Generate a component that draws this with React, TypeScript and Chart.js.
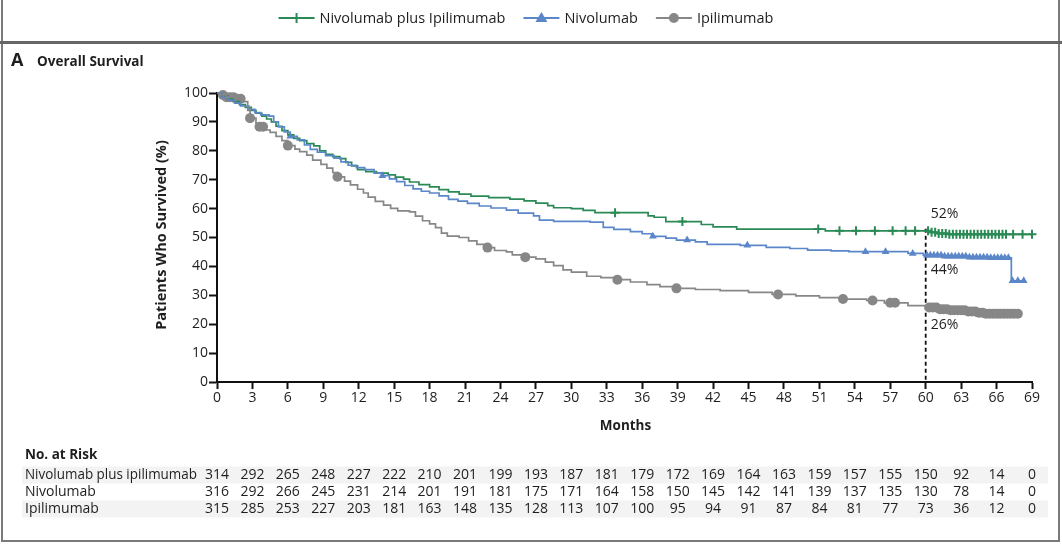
import React, { useEffect, useRef } from 'react';
import { Chart, registerables } from 'chart.js';

Chart.register(...registerables);

const W = 1062;
const H = 544;

// ---------- series meta ----------
const seriesNames = ['Nivolumab plus Ipilimumab', 'Nivolumab', 'Ipilimumab'];
const seriesColors = ['#2a8a55', '#5b87c9', '#878787'];
const seriesMarkers = ['cross', 'triangle', 'circle'];

// ---------- Kaplan-Meier curves (months, % surviving) ----------
const comboT = [0, 0.4, 0.9, 1.4, 1.9, 2.4, 2.9, 3.3, 3.8, 4.2, 4.6, 5, 5.5, 6, 6.5, 7, 7.6, 8.2, 8.7, 9.2, 9.8, 10.4, 10.9, 11.4, 11.9, 12.6, 13.5, 14.5, 15.1, 15.8, 16.3, 17.1, 18, 18.8, 19.6, 20.5, 21.5, 23, 24.8, 26, 27, 28, 28.5, 30, 31, 32, 36.5, 37, 38, 41, 42, 44, 51.5, 60.3, 61, 62, 69];
const comboS = [100, 99, 98, 97, 96, 95, 94, 93, 92, 91, 90, 88.5, 87, 85.5, 84.3, 83.5, 82.5, 81.7, 80, 78.8, 78, 77.3, 76, 74.8, 73.5, 72.8, 72.3, 71.7, 70.9, 70.2, 69.2, 68.3, 67.5, 66.6, 65.8, 65, 64.3, 63.8, 63.3, 62.7, 61.9, 61, 60.3, 60, 59.4, 58.6, 57.5, 57, 55.5, 54.5, 53.7, 52.9, 52.3, 51.8, 51.4, 51.1, 51.1];

const nivoT = [0, 0.5, 1, 1.5, 2, 2.7, 3.2, 3.7, 4.4, 4.8, 5.2, 5.7, 6.2, 6.8, 7.4, 7.9, 8.5, 9.2, 9.9, 10.5, 11.1, 11.8, 12.5, 13.3, 14, 14.6, 15.2, 15.9, 16.6, 17.3, 18, 18.8, 19.6, 20.4, 21.2, 22.2, 23.2, 24.5, 25.5, 26.8, 27.3, 28.5, 31.6, 32.7, 33.6, 35, 36, 36.8, 38, 38.9, 40.5, 41.5, 44.3, 46.5, 48.5, 50, 52, 53.5, 58.5, 59.8, 61.5, 63.5, 65.5, 67.25, 68.3];
const nivoS = [100, 98.5, 97.5, 96.5, 95.5, 94.3, 93.2, 92.4, 92, 90, 88.3, 86.5, 85, 83.8, 82, 80.5, 79.5, 78.3, 77.5, 76.2, 75, 74.2, 73.5, 72.3, 71.4, 70.3, 69.3, 68, 66.8, 66, 65.4, 64.4, 63.2, 62.6, 61.8, 60.9, 60.2, 59.5, 58.4, 57.5, 56, 55.6, 55.3, 53.5, 52.8, 52, 51.3, 50.4, 49.8, 49.1, 48.5, 47.6, 47.3, 46.6, 46.2, 45.6, 45.4, 45.1, 44.5, 43.9, 43.5, 43.2, 43, 35, 35];

const ipiT = [0, 0.3, 0.8, 1.5, 2.2, 2.6, 2.8, 3.3, 3.6, 4.1, 4.5, 5, 5.5, 6, 6.6, 7, 7.6, 8.1, 8.8, 9.3, 9.8, 10.2, 10.8, 11.3, 11.9, 12.4, 12.8, 13.4, 14.1, 14.7, 15.3, 16.3, 16.8, 17.4, 18, 18.5, 19, 19.5, 20.5, 21.3, 22, 22.9, 23.5, 24.5, 25, 26, 27, 27.8, 28.5, 29.3, 30, 31.3, 32.5, 33.8, 35, 36.4, 37.5, 38.9, 40.5, 42.6, 45, 47, 49, 51, 53, 55, 56.5, 58.5, 60.3, 61, 62, 63.5, 64.5, 65, 67.8];
const ipiS = [100, 99.3, 98.5, 98, 97, 94, 91.3, 89.5, 88.3, 87.2, 86.4, 85, 83.5, 81.8, 80.6, 79.7, 78.5, 76.8, 75.3, 74, 72.5, 71, 69.5, 68.2, 66.7, 65.4, 64, 62.5, 61.2, 60.1, 59.2, 58.9, 57.4, 55.8, 54.7, 53.4, 51.5, 50.5, 50, 48.8, 47.6, 46.5, 45.5, 45, 44, 43.2, 42.6, 41.5, 40.3, 38.8, 38, 36.6, 36.1, 35.4, 34.6, 33.7, 33, 32.4, 32, 31.6, 31, 30.3, 29.8, 29.2, 28.7, 28.2, 27.4, 26.4, 25.8, 25.2, 24.8, 24.4, 24, 23.6, 23.6];

// ---------- censor marks ----------
const comboCensorT = [33.7, 39.4, 50.9, 52.7, 54.1, 55.7, 57.2, 58.3, 59.1, 60.2, 60.5, 60.8, 61.1, 61.4, 61.7, 62.0, 62.3, 62.6, 62.9, 63.2, 63.5, 63.8, 64.1, 64.4, 64.7, 65.0, 65.3, 65.6, 65.9, 66.2, 66.5, 66.8, 67.4, 68.2, 69.0];
const comboCensorS = [58.6, 55.5, 52.9, 52.3, 52.3, 52.3, 52.3, 52.3, 52.3, 52.3, 51.8, 51.8, 51.4, 51.4, 51.4, 51.1, 51.1, 51.1, 51.1, 51.1, 51.1, 51.1, 51.1, 51.1, 51.1, 51.1, 51.1, 51.1, 51.1, 51.1, 51.1, 51.1, 51.1, 51.1, 51.1];

const nivoCensorT = [6.2, 14.0, 36.9, 39.8, 44.9, 54.9, 56.6, 58.9, 60.1, 60.4, 60.7, 61.0, 61.3, 61.6, 61.9, 62.2, 62.5, 62.8, 63.1, 63.4, 63.7, 64.0, 64.3, 64.6, 64.9, 65.2, 65.5, 65.8, 66.1, 66.4, 66.7, 67.0, 67.35, 67.8, 68.3];
const nivoCensorS = [85, 71.4, 50.4, 49.1, 47.3, 45.1, 45.1, 44.5, 43.9, 43.9, 43.9, 43.9, 43.9, 43.5, 43.5, 43.5, 43.5, 43.5, 43.5, 43.5, 43.2, 43.2, 43.2, 43.2, 43.2, 43.2, 43, 43, 43, 43, 43, 43, 35, 35, 35];

const ipiCensorT = [0.5, 0.8, 1.1, 1.4, 1.7, 2.0, 2.8, 3.6, 3.9, 6.0, 10.2, 22.9, 26.1, 33.9, 38.9, 47.5, 53.0, 55.5, 57.0, 57.4, 60.3, 60.6, 60.9, 61.2, 61.5, 61.8, 62.1, 62.4, 62.7, 63.0, 63.3, 63.6, 63.9, 64.2, 64.5, 64.8, 65.1, 65.4, 65.7, 66.0, 66.3, 66.6, 66.9, 67.2, 67.5, 67.8];
const ipiCensorS = [99.3, 98.5, 98.5, 98.5, 98, 98, 91.3, 88.3, 88.3, 81.8, 71, 46.5, 43.2, 35.4, 32.4, 30.3, 28.7, 28.2, 27.4, 27.4, 25.8, 25.8, 25.8, 25.2, 25.2, 25.2, 24.8, 24.8, 24.8, 24.8, 24.8, 24.4, 24.4, 24.4, 24, 24, 23.6, 23.6, 23.6, 23.6, 23.6, 23.6, 23.6, 23.6, 23.6, 23.6];

// ---------- annotations ----------
const landmarkMonth = 60;
const landmarkTop = 53;
const landmarkLabels = ['52%', '44%', '26%'];
const landmarkLabelY = [58, 38.8, 19.7];

// ---------- axes ----------
const xMax = 69;
const xStep = 3;
const yMax = 100;
const yStep = 10;

// ---------- number at risk ----------
const riskTimes = [0, 3, 6, 9, 12, 15, 18, 21, 24, 27, 30, 33, 36, 39, 42, 45, 48, 51, 54, 57, 60, 63, 66, 69];
const riskLabels = ['Nivolumab plus ipilimumab', 'Nivolumab', 'Ipilimumab'];
const riskCombo = [314, 292, 265, 248, 227, 222, 210, 201, 199, 193, 187, 181, 179, 172, 169, 164, 163, 159, 157, 155, 150, 92, 14, 0];
const riskNivo = [316, 292, 266, 245, 231, 214, 201, 191, 181, 175, 171, 164, 158, 150, 145, 142, 141, 139, 137, 135, 130, 78, 14, 0];
const riskIpi = [315, 285, 253, 227, 203, 181, 163, 148, 135, 128, 113, 107, 100, 95, 94, 91, 87, 84, 81, 77, 73, 36, 12, 0];

const FONT = '"Open Sans", "DejaVu Sans", sans-serif';
const TXT = '#1e1e1e';

function pts(t: number[], s: number[]) {
  return t.map((v, i) => ({ x: v, y: s[i] }));
}

function drawMarker(ctx: CanvasRenderingContext2D, kind: string, x: number, y: number, color: string) {
  ctx.save();
  ctx.fillStyle = color;
  ctx.strokeStyle = color;
  if (kind === 'cross') {
    ctx.lineWidth = 2;
    ctx.beginPath();
    ctx.moveTo(x - 5, y);
    ctx.lineTo(x + 5, y);
    ctx.moveTo(x, y - 5);
    ctx.lineTo(x, y + 5);
    ctx.stroke();
  } else if (kind === 'triangle') {
    ctx.beginPath();
    ctx.moveTo(x, y - 6);
    ctx.lineTo(x + 6, y + 4);
    ctx.lineTo(x - 6, y + 4);
    ctx.closePath();
    ctx.fill();
  } else {
    ctx.beginPath();
    ctx.arc(x, y, 5, 0, Math.PI * 2);
    ctx.fill();
  }
  ctx.restore();
}

const decorPlugin = {
  id: 'decor',
  beforeDraw(chart: any) {
    const ctx: CanvasRenderingContext2D = chart.ctx;
    const xs = chart.scales.x;
    ctx.save();
    ctx.fillStyle = '#ffffff';
    ctx.fillRect(0, 0, W, H);

    // frame
    ctx.strokeStyle = '#7a7a7a';
    ctx.lineWidth = 2;
    ctx.beginPath();
    ctx.moveTo(2, 0);
    ctx.lineTo(2, 541);
    ctx.lineTo(1059, 541);
    ctx.lineTo(1059, 0);
    ctx.stroke();
    ctx.fillStyle = '#666666';
    ctx.fillRect(0, 41, W, 3);

    // legend
    ctx.font = `14.5px ${FONT}`;
    ctx.textBaseline = 'middle';
    ctx.textAlign = 'left';
    const lineLen = 36;
    const gapA = 5;
    const gapB = 18;
    const widths = seriesNames.map((n) => ctx.measureText(n).width);
    const total = widths.reduce((a, b) => a + b, 0) + seriesNames.length * (lineLen + gapA) + (seriesNames.length - 1) * gapB;
    let lx = 526 - total / 2;
    const ly = 18;
    seriesNames.forEach((n, i) => {
      ctx.strokeStyle = seriesColors[i];
      ctx.lineWidth = 2;
      ctx.beginPath();
      ctx.moveTo(lx, ly);
      ctx.lineTo(lx + lineLen, ly);
      ctx.stroke();
      drawMarker(ctx, seriesMarkers[i], lx + lineLen / 2, ly, seriesColors[i]);
      ctx.fillStyle = TXT;
      ctx.fillText(n, lx + lineLen + gapA, ly + 1);
      lx += lineLen + gapA + widths[i] + gapB;
    });

    // panel title
    ctx.fillStyle = TXT;
    ctx.font = `bold 18px ${FONT}`;
    ctx.fillText('A', 11, 61);
    ctx.font = `bold 13.5px ${FONT}`;
    ctx.fillText('Overall Survival', 37, 62);

    // axis titles
    ctx.font = `bold 13.5px ${FONT}`;
    ctx.textAlign = 'center';
    ctx.fillText('Months', (xs.left + xs.right) / 2 + 1, 426);
    ctx.save();
    ctx.translate(162, 235);
    ctx.rotate(-Math.PI / 2);
    ctx.font = `bold 14.5px ${FONT}`;
    ctx.fillText('Patients Who Survived (%)', 0, 0);
    ctx.restore();

    // number at risk
    ctx.textAlign = 'left';
    ctx.font = `bold 13.5px ${FONT}`;
    ctx.fillText('No. at Risk', 25, 455);
    const rows = [riskCombo, riskNivo, riskIpi];
    const rowY = [475, 492, 509];
    ctx.fillStyle = '#f3f3f3';
    ctx.fillRect(22, rowY[0] - 8.5, 1026, 17);
    ctx.fillRect(22, rowY[2] - 8.5, 1026, 17);
    ctx.font = `14px ${FONT}`;
    rows.forEach((r, ri) => {
      ctx.fillStyle = TXT;
      ctx.textAlign = 'left';
      ctx.fillText(riskLabels[ri], 25, rowY[ri], 172);
      ctx.textAlign = 'center';
      r.forEach((v, i) => {
        ctx.fillText(String(v), xs.getPixelForValue(riskTimes[i]), rowY[ri]);
      });
    });
    ctx.restore();
  },
  beforeDatasetsDraw(chart: any) {
    const ctx: CanvasRenderingContext2D = chart.ctx;
    const xs = chart.scales.x;
    const ys = chart.scales.y;
    const px = xs.getPixelForValue(landmarkMonth);
    ctx.save();
    ctx.strokeStyle = '#111';
    ctx.lineWidth = 1.8;
    ctx.setLineDash([4, 3]);
    ctx.beginPath();
    ctx.moveTo(px, ys.getPixelForValue(landmarkTop));
    ctx.lineTo(px, ys.getPixelForValue(0));
    ctx.stroke();
    ctx.restore();
  },
  afterDatasetsDraw(chart: any) {
    const ctx: CanvasRenderingContext2D = chart.ctx;
    const xs = chart.scales.x;
    const ys = chart.scales.y;
    const px = xs.getPixelForValue(landmarkMonth);
    ctx.save();
    ctx.fillStyle = TXT;
    ctx.font = `14px ${FONT}`;
    ctx.textAlign = 'left';
    ctx.textBaseline = 'middle';
    landmarkLabels.forEach((l, i) => {
      ctx.fillText(l, px + 5, ys.getPixelForValue(landmarkLabelY[i]));
    });
    ctx.restore();
  },
};

export default function App() {
  const ref = useRef<HTMLCanvasElement>(null);
  useEffect(() => {
    document.body.style.margin = '0';
    const canvas = ref.current;
    if (!canvas) return;
    const curves = [pts(comboT, comboS), pts(nivoT, nivoS), pts(ipiT, ipiS)];
    const censors = [pts(comboCensorT, comboCensorS), pts(nivoCensorT, nivoCensorS), pts(ipiCensorT, ipiCensorS)];
    const order = [2, 1, 0];
    const datasets: any[] = [];
    order.forEach((i) => {
      datasets.push({
        type: 'line',
        label: seriesNames[i],
        data: curves[i],
        borderColor: seriesColors[i],
        borderWidth: 1.7,
        stepped: 'before',
        pointRadius: 0,
        fill: false,
        clip: false,
      });
    });
    order.forEach((i) => {
      datasets.push({
        type: 'line',
        label: seriesNames[i] + ' censored',
        data: censors[i],
        showLine: false,
        borderColor: seriesColors[i],
        backgroundColor: seriesColors[i],
        pointStyle: seriesMarkers[i],
        pointRadius: seriesMarkers[i] === 'circle' ? 5 : 4.5,
        pointBorderWidth: seriesMarkers[i] === 'cross' ? 2 : 0,
        clip: false,
      });
    });
    const tickFont = { family: FONT, size: 14 };
    const chart = new Chart(canvas, {
      type: 'line',
      data: { datasets },
      options: {
        animation: false,
        responsive: false,
        devicePixelRatio: 1,
        layout: { padding: { left: 0, right: W - 1032, top: 93, bottom: 0 } },
        plugins: { legend: { display: false }, tooltip: { enabled: false }, title: { display: false } },
        scales: {
          x: {
            type: 'linear',
            min: 0,
            max: xMax,
            afterFit: (s: any) => { s.height = H - 382; },
            ticks: { stepSize: xStep, color: TXT, font: tickFont, padding: 1, maxRotation: 0, autoSkip: false },
            grid: { drawOnChartArea: false, drawTicks: true, tickLength: 7, tickColor: '#111', tickWidth: 2 },
            border: { display: true, color: '#111', width: 2 },
          },
          y: {
            type: 'linear',
            min: 0,
            max: yMax,
            afterFit: (s: any) => { s.width = 217; },
            ticks: { stepSize: yStep, color: TXT, font: tickFont, padding: 1 },
            grid: { drawOnChartArea: false, drawTicks: true, tickLength: 8, tickColor: '#111', tickWidth: 2 },
            border: { display: true, color: '#111', width: 2 },
          },
        },
      } as any,
      plugins: [decorPlugin],
    });
    return () => chart.destroy();
  }, []);
  return (
    <div style={{ width: W, height: H }}>
      <canvas ref={ref} width={W} height={H} style={{ display: 'block', width: W, height: H }} />
    </div>
  );
}
